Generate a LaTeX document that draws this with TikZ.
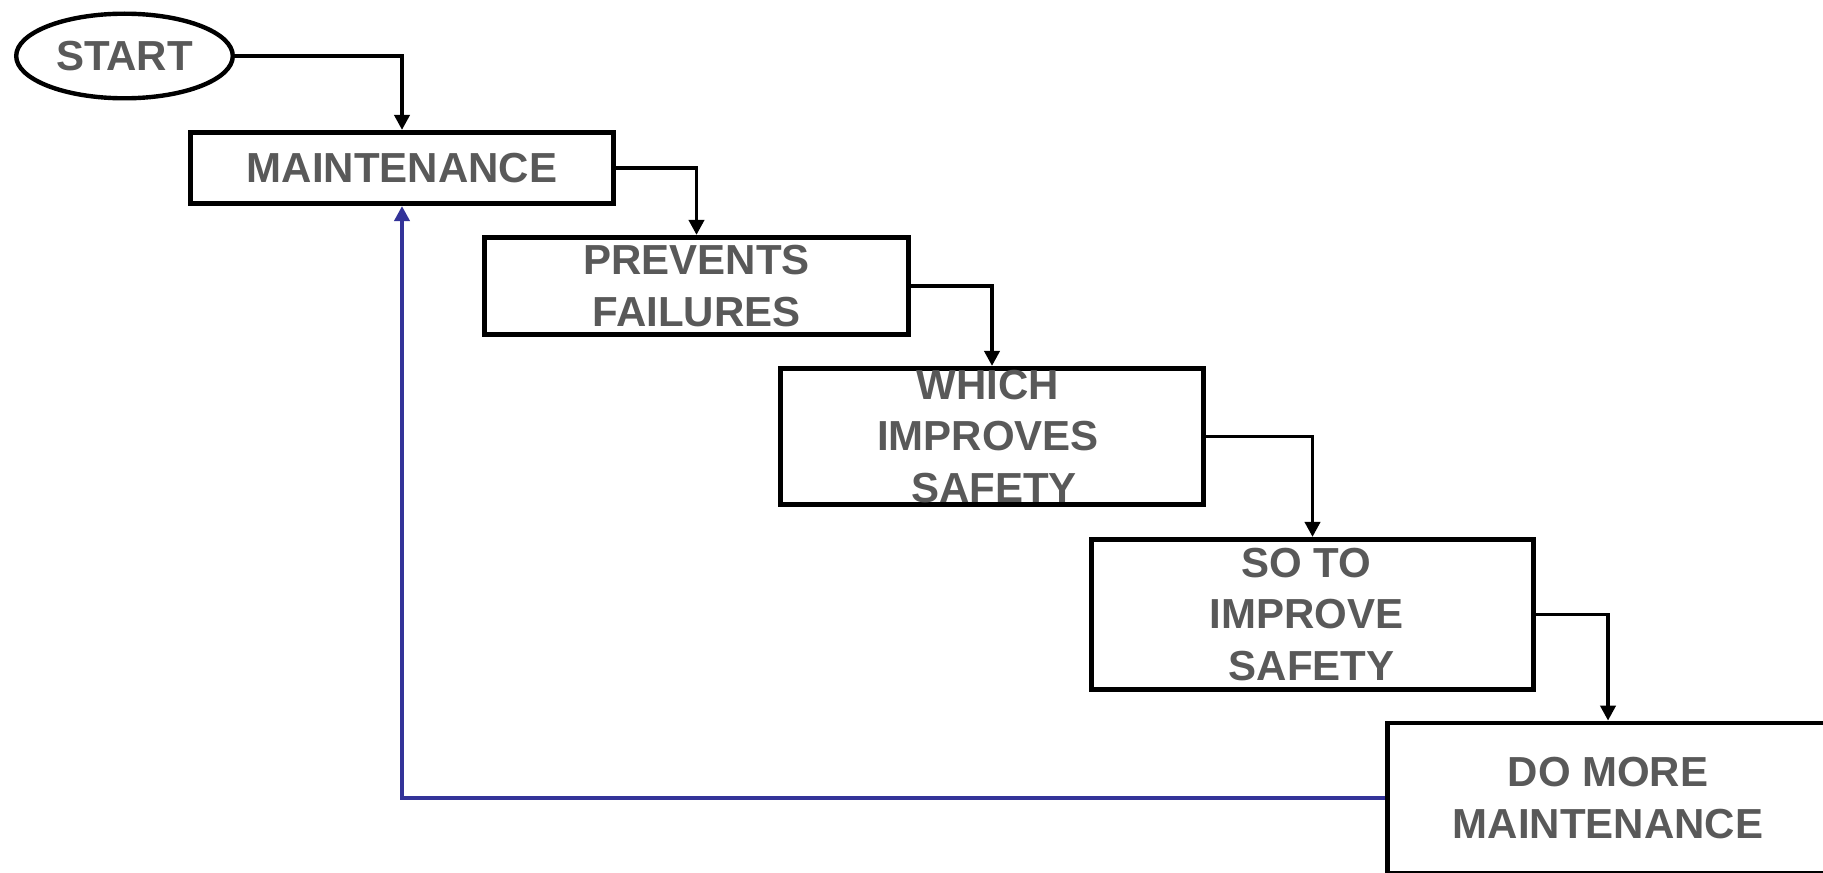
\documentclass[tikz,border=0pt]{standalone}
\usepackage{fontspec}
\setmainfont{Liberation Sans}
\usetikzlibrary{shapes.geometric,arrows.meta}
\definecolor{txtgray}{RGB}{89,89,89}
\definecolor{loopblue}{RGB}{51,51,153}
\begin{document}
\begin{tikzpicture}[x=0.5pt,y=-0.5pt,
  box/.style={draw=black,line width=2.35pt,rectangle,inner sep=0pt},
  lbl/.style={text=txtgray,font=\fontsize{21}{25.8}\selectfont\bfseries,align=center,inner sep=0pt},
  conn/.style={draw=black,line width=1.85pt,-{Triangle[length=7.5pt,width=7.5pt]}},
  fb/.style={draw=loopblue,line width=2pt,-{Triangle[length=7.5pt,width=7.5pt]}}]
\useasboundingbox (0,0) rectangle (1823,872);
\clip (0,0) rectangle (1823,872);

% start terminal
\node[draw=black,ellipse,line width=2.2pt,minimum width=108.3pt,minimum height=42.3pt,
      inner sep=0pt,text=txtgray,font=\fontsize{21}{25.8}\selectfont\bfseries] (start) at (124.5,56) {START};

% process boxes
\node[box,minimum width=211.7pt,minimum height=35.7pt] (maint) at (402,168) {};
\node[box,minimum width=212.2pt,minimum height=48.7pt] (prev) at (696.5,286) {};
\node[box,minimum width=211.7pt,minimum height=68.2pt] (which) at (992,436.5) {};
\node[box,minimum width=221.2pt,minimum height=75.2pt] (soto) at (1312.5,614.5) {};
\node[box,minimum width=220.7pt,minimum height=75pt] (domore) at (1608,798) {};

% box texts
\node[lbl] (maintT) at (maint.center) {MAINTENANCE};
\node[lbl] (prevT) at (prev.center) {PREVENTS\\FAILURES};
\node[lbl] (whichT) at ([xshift=-2pt]which.center) {WHICH\\IMPROVES\\\hspace*{6pt}SAFETY};
\node[lbl] (sotoT) at ([xshift=-3pt]soto.center) {SO TO\\IMPROVE\\\hspace*{5pt}SAFETY};
\node[lbl] (domoreT) at (domore.center) {DO MORE\\MAINTENANCE};

% flow connectors
\draw[conn] (start.east) -| (maint.north);
\draw[conn] (maint.east) -| (prev.north);
\draw[conn] (prev.east) -| (which.north);
\draw[conn] (which.east) -| (soto.north);
\draw[conn] (soto.east) -| (domore.north);

% feedback loop
\draw[fb] (domore.west) -| (maint.south);
\end{tikzpicture}
\end{document}
